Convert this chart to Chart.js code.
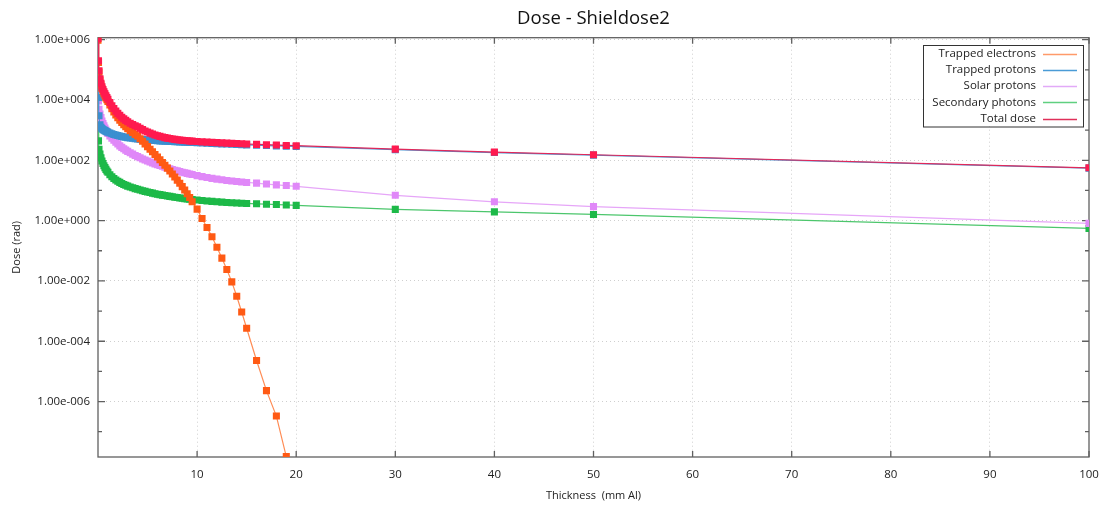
<!DOCTYPE html>
<html>
<head>
<meta charset="utf-8">
<script src="https://cdn.jsdelivr.net/npm/chart.js@4.4.1/dist/chart.umd.min.js"></script>
<style>
  html, body { margin: 0; padding: 0; background: #fff; }
  #wrap { width: 1106px; height: 506px; }
</style>
</head>
<body>
<div id="wrap"><canvas id="dose" width="1106" height="506"></canvas></div>
<script>
// shielding depth, mm Al
const thickness = [0, 0.05,
  0.1, 0.2, 0.3, 0.4, 0.5, 0.6, 0.7, 0.8, 0.9, 1.0,
  1.2, 1.4, 1.6, 1.8, 2.0, 2.2, 2.4, 2.6, 2.8, 3.0,
  3.25, 3.5, 3.75, 4.0, 4.25, 4.5, 4.75, 5.0, 5.25, 5.5, 5.75, 6.0, 6.25, 6.5, 6.75,
  7.0, 7.25, 7.5, 7.75, 8.0, 8.25, 8.5, 8.75, 9.0, 9.25,
  9.5, 10, 10.5, 11, 11.5, 12, 12.5, 13, 13.5, 14, 14.5, 15,
  16, 17, 18, 19, 20,
  30, 40, 50, 100];

// dose in rad
const trappedElectrons = [9.5e5, 1.74e5,
  8.5e4, 4.57e4, 3.16e4, 2.4e4, 1.95e4, 1.62e4, 1.38e4, 1.17e4, 1.02e4, 8.9e3,
  6.8e3, 5.1e3, 4.0e3, 3.16e3, 2.57e3, 2.14e3, 1.78e3, 1.51e3, 1.29e3, 1.12e3,
  955, 832, 724, 640, 520, 425, 347, 284, 233, 191, 156, 128, 104, 84, 68,
  55, 44, 35, 27.8, 22, 17.2, 13.4, 10.3, 7.8, 5.8,
  4.2, 2.4, 1.17, 0.59, 0.29, 0.13, 0.057, 0.024, 0.0093, 0.0031, 9.3e-4, 2.7e-4,
  2.3e-5, 2.3e-6, 3.3e-7, 1.5e-8, null,
  null, null, null, null];

const trappedProtons = [8.0e4, 1.2e4,
  3.0e3, 1.5e3, 1.25e3, 1.12e3, 1.05e3, 1.0e3, 960, 920, 880, 850,
  800, 755, 720, 690, 665, 640, 615, 595, 580, 565,
  550, 535, 522, 510, 500, 490, 481, 473, 466, 459, 453, 447, 441, 436, 431,
  426, 421, 417, 413, 409, 405, 401, 398, 395, 391,
  388, 381, 374, 368, 362, 356, 350, 345, 340, 335, 330, 325,
  316, 308, 300, 293, 287,
  225, 180, 148, 55];

const solarProtons = [5.5e4, 9.3e3,
  4.9e3, 3.4e3, 2.6e3, 2.0e3, 1.65e3, 1.38e3, 1.17e3, 1.0e3, 880, 780,
  640, 535, 460, 400, 350, 300, 268, 240, 217, 197,
  177, 160, 145, 132, 121, 111, 102, 95, 88, 82, 76, 71, 67, 63, 59,
  55.5, 52.5, 49.5, 47, 44.5, 42.3, 40.3, 38.5, 36.8, 35.2,
  33.7, 31, 28.7, 26.8, 25.1, 23.7, 22.5, 21.4, 20.5, 19.7, 19.0, 18.4,
  17.5, 16.3, 15.3, 14.5, 13.7,
  6.9, 4.2, 2.9, 0.81];

const secondaryPhotons = [1.2e3, 440,
  230, 160, 120, 95, 78, 66, 57, 50, 44, 40,
  33, 28.5, 25, 22.3, 20.2, 18.5, 17, 15.8, 14.8, 13.9,
  13, 12.2, 11.5, 10.9, 10.3, 9.8, 9.3, 8.9, 8.5, 8.15, 7.8, 7.5, 7.25, 7.0, 6.75,
  6.55, 6.35, 6.15, 5.95, 5.8, 5.65, 5.5, 5.35, 5.2, 5.1,
  5.0, 4.8, 4.62, 4.47, 4.33, 4.2, 4.1, 4.0, 3.92, 3.84, 3.77, 3.7,
  3.6, 3.5, 3.4, 3.3, 3.2,
  2.35, 1.95, 1.6, 0.55];

const totalDose = [1.1e6, 2.0e5,
  9.3e4, 5.08e4, 3.56e4, 2.72e4, 2.23e4, 1.86e4, 1.6e4, 1.37e4, 1.2e4, 1.06e4,
  8.27e3, 6.42e3, 5.2e3, 4.27e3, 3.6e3, 3.1e3, 2.68e3, 2.36e3, 2.1e3, 1.9e3,
  1.7e3, 1.54e3, 1.4e3, 1.29e3, 1.15e3, 1.04e3, 939, 861, 796, 740, 693, 654, 619, 590, 565,
  543, 524, 508, 494, 481, 470, 460, 452, 445, 437,
  431, 419, 408, 400, 392, 384, 377, 370, 364, 359, 353, 347,
  337, 328, 319, 311, 304,
  234, 186, 152.5, 56.4];

// y axis: one tick per decade, labels on even exponents
const decades = [-7, -6, -5, -4, -3, -2, -1, 0, 1, 2, 3, 4, 5, 6];
const xTicks = [10, 20, 30, 40, 50, 60, 70, 80, 90, 100];

const gridColor = '#cfcfcf';
const frameColor = '#606060';
Chart.defaults.font.family = "'Open Sans', 'DejaVu Sans', sans-serif";
Chart.defaults.color = '#222';

function fmtExp(e) {
  return '1.00e' + (e < 0 ? '-' : '+') + String(Math.abs(e)).padStart(3, '0');
}
function isEvenDecade(v) {
  return Math.round(Math.log10(v)) % 2 === 0;
}

function series(label, values, line, mark, order) {
  return {
    label,
    data: thickness.map((t, i) => ({ x: t, y: values[i] })),
    borderColor: line,
    backgroundColor: mark,
    pointBackgroundColor: mark,
    pointBorderColor: mark,
    pointBorderWidth: 0,
    pointStyle: 'rect',
    pointRadius: 5,
    borderWidth: 1.2,
    order,
    spanGaps: false
  };
}

// box frame with inward ticks on all four sides
const frame = {
  id: 'frame',
  beforeDatasetsDraw(chart) {
    const { ctx, chartArea: a, scales: { x, y } } = chart;
    ctx.save();
    ctx.strokeStyle = frameColor;
    ctx.lineWidth = 1.3;
    ctx.strokeRect(a.left, a.top, a.right - a.left, a.bottom - a.top);
    ctx.beginPath();
    x.ticks.forEach(t => {
      const px = x.getPixelForValue(t.value);
      ctx.moveTo(px, a.bottom); ctx.lineTo(px, a.bottom - 6);
      ctx.moveTo(px, a.top); ctx.lineTo(px, a.top + 6);
    });
    y.ticks.forEach(t => {
      const py = y.getPixelForValue(t.value);
      const len = isEvenDecade(t.value) ? 7 : 4;
      ctx.moveTo(a.left, py); ctx.lineTo(a.left + len, py);
      ctx.moveTo(a.right, py); ctx.lineTo(a.right - len, py);
    });
    ctx.stroke();
    ctx.restore();
  }
};

// legend: right aligned names, line sample after
const legendBox = {
  id: 'legendBox',
  afterDraw(chart) {
    const { ctx, chartArea: a } = chart;
    const right = a.right - 6, top = a.top + 7;
    const w = 160, h = 81.5, rowH = 16.2;
    ctx.save();
    ctx.fillStyle = '#fff';
    ctx.fillRect(right - w, top, w, h);
    ctx.strokeStyle = '#333';
    ctx.lineWidth = 1;
    ctx.strokeRect(Math.round(right - w) + 0.5, Math.round(top) + 0.5, w, h);
    ctx.font = "11.5px 'Open Sans', sans-serif";
    ctx.textAlign = 'right';
    ctx.textBaseline = 'middle';
    chart.data.datasets.forEach((ds, i) => {
      const yy = top + 9 + i * rowH;
      ctx.fillStyle = '#222';
      ctx.fillText(ds.label, right - 47, yy);
      ctx.strokeStyle = ds.legendColor;
      ctx.lineWidth = 1.5;
      ctx.beginPath();
      ctx.moveTo(right - 40, Math.round(yy) + 0.5);
      ctx.lineTo(right - 6, Math.round(yy) + 0.5);
      ctx.stroke();
    });
    ctx.restore();
  }
};

const datasets = [
  series('Trapped electrons', trappedElectrons, '#ff8c55', '#ff5a14', 1),
  series('Trapped protons', trappedProtons, '#4797d4', '#3a8fd0', 2),
  series('Solar protons', solarProtons, '#e6a6f8', '#e088f8', 3),
  series('Secondary photons', secondaryPhotons, '#4cc66c', '#1db948', 4),
  series('Total dose', totalDose, '#e0285a', '#ff1a4f', 0)
];
datasets[0].legendColor = '#ff9a6a';
datasets[1].legendColor = '#4a9bd6';
datasets[2].legendColor = '#e2aaf8';
datasets[3].legendColor = '#5fd080';
datasets[4].legendColor = '#e0305a';

new Chart(document.getElementById('dose'), {
  type: 'line',
  data: { datasets },
  plugins: [frame, legendBox],
  options: {
    responsive: false,
    animation: false,
    layout: { padding: { right: 17 } },
    plugins: {
      legend: { display: false },
      tooltip: { enabled: false },
      title: {
        display: true,
        text: 'Dose - Shieldose2',
        fullSize: false,
        color: '#111',
        font: { size: 18.5, weight: 'normal' },
        padding: { top: 8, bottom: 7.5 }
      }
    },
    scales: {
      x: {
        type: 'linear',
        min: 0,
        max: 100,
        afterBuildTicks: s => { s.ticks = xTicks.map(v => ({ value: v })); },
        afterFit: s => { s.height = 49; s.paddingLeft = 0; s.paddingRight = 0; },
        ticks: { font: { size: 11.5 }, color: '#222', padding: 11, maxRotation: 0, autoSkip: false,
                 callback: v => String(v) },
        grid: { drawTicks: false, lineWidth: 1,
                color: c => (c.tick && c.tick.value < 100) ? gridColor : 'rgba(0,0,0,0)' },
        border: { display: false, dash: [1, 3] },
        title: { display: true, text: 'Thickness  (mm Al)', color: '#222',
                 font: { size: 11 }, padding: { top: 0, bottom: 4 } }
      },
      y: {
        type: 'logarithmic',
        min: 1.45e-8,
        max: 1.16e6,
        afterBuildTicks: s => { s.ticks = decades.map(e => ({ value: Math.pow(10, e) })); },
        afterFit: s => { s.width = 98; s.paddingTop = 0; s.paddingBottom = 0; },
        ticks: { font: { size: 11.5 }, color: '#222', padding: 8, autoSkip: false,
                 callback: v => isEvenDecade(v) ? fmtExp(Math.round(Math.log10(v))) : '' },
        grid: { drawTicks: false, lineWidth: 1,
                color: c => (c.tick && isEvenDecade(c.tick.value)) ? gridColor : 'rgba(0,0,0,0)' },
        border: { display: false, dash: [1, 3] },
        title: { display: true, text: 'Dose (rad)', color: '#222',
                 font: { size: 11 }, padding: { top: 10, bottom: 0 } }
      }
    }
  }
});
</script>
</body>
</html>
